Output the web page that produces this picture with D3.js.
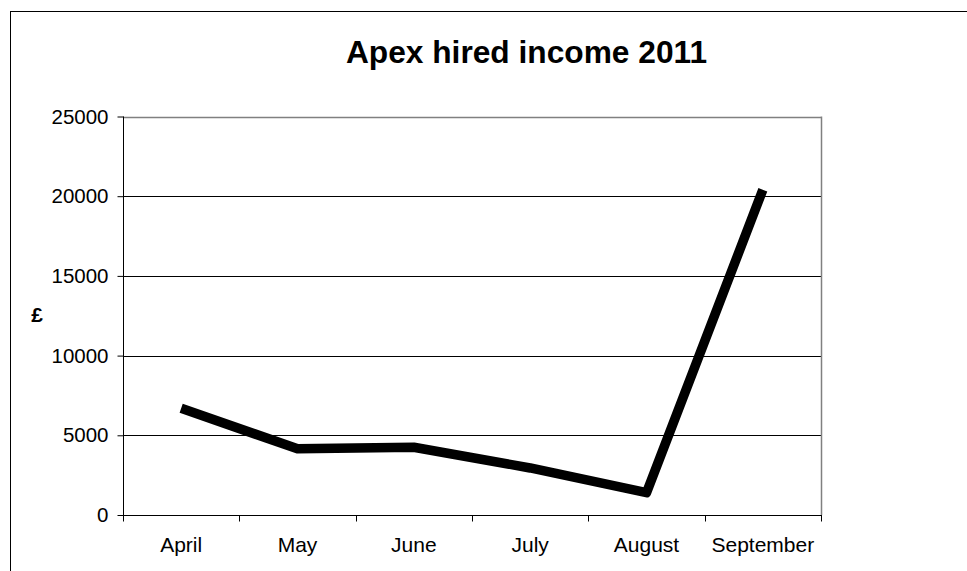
<!DOCTYPE html>
<html><head><meta charset="utf-8">
<script src="https://cdn.jsdelivr.net/npm/d3@7"></script>
<style>body{margin:0;background:#fff;} svg{display:block;}</style>
</head><body>
<svg id="c" width="967" height="571"></svg>
<script>
const categories = ["April","May","June","July","August","September"];
const income = [6700, 4150, 4250, 2950, 1400, 20400];
const yTicks = [0, 5000, 10000, 15000, 20000, 25000];
const title = "Apex hired income 2011";
const yLabel = "£";

const svg = d3.select("#c");
const font = "'Liberation Sans', Arial, sans-serif";
const L = 123, R = 821, T = 116.5, B = 515;

svg.append("rect").attr("x",10.5).attr("y",11.5).attr("width",1000).attr("height",700)
  .attr("fill","#fff").attr("stroke","#000").attr("stroke-width",1);

const x = d3.scaleBand().domain(categories).range([L,R]);
const y = d3.scaleLinear().domain([0,25000]).range([B,T]);

// gridlines
svg.append("g").selectAll("line").data(yTicks.filter(d=>d>0)).join("line")
  .attr("x1",L).attr("x2",R).attr("y1",d=>Math.round(y(d))+0.5).attr("y2",d=>Math.round(y(d))+0.5)
  .attr("stroke",d=>d===25000?"#808080":"#000").attr("stroke-width",d=>d===25000?1.5:1);
// right border
svg.append("line").attr("x1",R+0.5).attr("x2",R+0.5).attr("y1",T).attr("y2",B)
  .attr("stroke","#808080").attr("stroke-width",1.5);

// y axis
const yAxis = d3.axisLeft(y).tickValues(yTicks).tickSize(6).tickPadding(9).tickFormat(d3.format("d"));
const gy = svg.append("g").attr("transform",`translate(${L+0.5},0)`).call(yAxis);
gy.selectAll("text").attr("font-family",font).attr("font-size",20.5).attr("fill","#000");
gy.selectAll("line,path").attr("stroke","#000");
gy.select(".domain").attr("d",`M0,${T}V${B}`);

// x axis with ticks at boundaries
const gx = svg.append("g").attr("transform",`translate(0,${B+0.5})`);
gx.append("line").attr("x1",L).attr("x2",R+1).attr("stroke","#000");
const bounds = categories.map(c=>x(c)).concat([x(categories[categories.length-1])+x.bandwidth()]);
gx.selectAll("line.t").data(bounds).join("line").attr("class","t")
  .attr("x1",d=>Math.round(d)+0.5).attr("x2",d=>Math.round(d)+0.5).attr("y1",0).attr("y2",6).attr("stroke","#000");
gx.selectAll("text").data(categories).join("text")
  .attr("x",d=>x(d)+x.bandwidth()/2).attr("y",36.5).attr("text-anchor","middle")
  .attr("font-family",font).attr("font-size",21).attr("fill","#000").text(d=>d);

// line
const line = d3.line().x((d,i)=>x(categories[i])+x.bandwidth()/2).y(d=>y(d));
svg.append("path").datum(income).attr("d",line).attr("fill","none")
  .attr("stroke","#000").attr("stroke-width",9.5).attr("stroke-linejoin","round").attr("stroke-linecap","butt");

// title
svg.append("text").attr("x",526.5).attr("y",63).attr("text-anchor","middle")
  .attr("font-family",font).attr("font-weight","bold").attr("font-size",31.7).text(title);
svg.append("text").attr("x",37).attr("y",322).attr("text-anchor","middle")
  .attr("font-family",font).attr("font-weight","bold").attr("font-size",21).text(yLabel);
</script>
</body></html>
